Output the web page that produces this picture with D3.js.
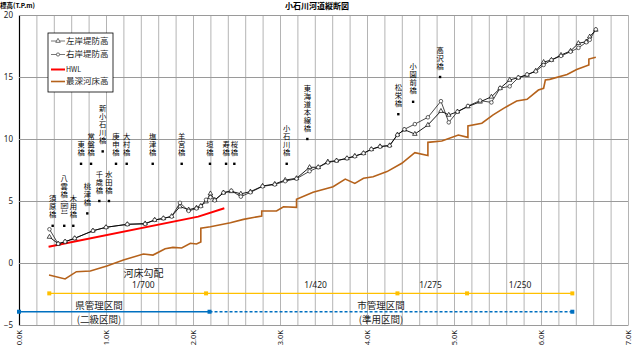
<!DOCTYPE html>
<html><head><meta charset="utf-8">
<script src="https://cdn.jsdelivr.net/npm/d3@7"></script>
<style>
html,body{margin:0;padding:0;background:#fff;}
svg{display:block;font-family:"Noto Sans CJK JP","Noto Sans",sans-serif;}
</style></head><body>
<svg id="chart" width="632" height="345"></svg>
<script>
// Survey sections (distance from river mouth, km)
const sections = [0.35,0.45,0.53,0.64,0.85,1.00,1.245,1.45,1.56,1.66,1.755,1.85,1.95,2.04,2.09,2.15,2.20,2.25,2.35,2.44,2.55,2.66,2.80,2.94,3.06,3.19,3.34,3.44,3.55,3.65,3.77,3.86,3.96,4.05,4.15,4.26,4.35,4.43,4.55,4.70,4.85,4.94,5.04,5.16,5.30,5.43,5.53,5.64,5.74,5.84,5.94,6.03,6.12,6.23,6.34,6.43,6.52,6.56,6.63];
// 左岸堤防高 (T.P.m)
const leftBank = [2.10,1.55,1.72,1.99,2.60,2.88,3.12,3.18,3.47,3.60,3.77,4.55,4.30,4.45,4.60,4.95,5.60,5.08,5.67,5.78,5.58,5.75,6.21,6.37,6.69,6.83,7.72,7.72,8.17,8.25,8.44,8.63,8.85,9.17,9.40,9.48,10.35,10.75,10.40,11.13,12.25,11.94,12.20,12.62,13.00,13.40,14.09,14.76,14.95,15.16,15.50,16.20,16.37,16.77,17.10,17.72,17.85,18.25,18.80];
// 右岸堤防高 (T.P.m)
const rightBank = [2.72,1.55,1.72,1.99,2.60,2.88,3.12,3.15,3.47,3.60,3.74,4.85,4.20,4.40,4.58,5.10,5.30,5.05,5.67,5.83,5.35,5.70,6.18,6.33,6.60,6.80,7.40,7.72,8.10,8.25,8.44,8.60,8.85,9.17,9.38,9.46,10.32,10.78,11.20,11.75,13.05,11.34,12.20,12.66,13.10,12.95,14.10,14.25,14.95,15.20,15.45,15.97,16.37,16.70,17.04,17.35,17.80,18.00,18.84];

// HWL
const hwlDist = [0.34, 2.06, 2.36];
const hwlLevel = [1.31, 3.74, 4.41];

// 最深河床高
const bedDist = [0.345,0.53,0.66,0.82,1.01,1.20,1.43,1.54,1.68,1.77,1.87,1.97,2.04,2.09,2.09,2.20,2.43,2.58,2.79,2.79,2.96,3.04,3.19,3.19,3.38,3.61,3.75,3.86,3.96,4.07,4.23,4.40,4.55,4.70,4.70,4.86,5.05,5.16,5.16,5.32,5.45,5.57,5.72,5.84,5.97,6.03,6.05,6.10,6.30,6.41,6.55,6.55,6.63];
const bedLevel = [-0.97,-1.29,-0.70,-0.65,-0.24,0.24,0.72,0.64,1.15,1.26,1.21,1.59,1.53,1.70,2.80,2.93,3.25,3.52,3.79,4.19,4.19,4.54,4.49,5.13,5.70,6.15,6.77,6.42,6.83,6.96,7.37,8.04,8.90,8.66,9.73,9.84,10.32,10.13,11.05,11.27,11.94,12.47,13.06,13.20,13.95,14.09,14.76,14.81,15.20,15.60,15.97,16.45,16.60];

// Bridges: name, location (km), label anchor level (T.P.m)
const bridgeNames = ["須原橋","八雲橋(国1)","木用橋","東橋","桃津橋","常盤橋","千歳橋","新小石川橋","水田橋","庚申橋","大村橋","塩津橋","羊宮橋","垣橋","寿橋","桜橋","小石川橋","東海道本線橋","松栄橋","小園前橋","高沢橋"];
const bridgeDist = [0.387,0.52,0.624,0.713,0.785,0.828,0.923,0.962,1.034,1.115,1.238,1.537,1.87,2.195,2.38,2.475,3.077,3.314,4.36,4.53,4.84];
const bridgeLevel = [3,3,3,8,4,8,5,9,5,8,8,8,8,8,8,8,8,10,12,13,15];

// River-bed gradient sections
const gradeBreaks = [0.348, 2.15, 4.35, 5.15, 6.36];
const gradeLabels = ["1/700","1/420","1/275","1/250"];
const gradeLabelDist = [1.43, 3.41, 4.73, 5.76];
const gradeLevel = -2.45;

// Administrative sections
const adminBreaks = [0, 2.19, 6.36];
const adminLabels = [["県管理区間","(二級区間)"],["市管理区間","(準用区間)"]];
const adminLabelDist = [0.92, 4.16];
const adminLevel = -3.93;

const yTicks = [20,15,10,5,0,-5];

const svg = d3.select('#chart');
const x = d3.scaleLinear().domain([0,7]).range([19,628]);
const y = d3.scaleLinear().domain([-5,20]).range([325,15]);

// vertical grid every 0.2 km, labelled every 1 km
const xAxis = d3.axisBottom(x)
  .tickValues(d3.range(0,36).map(i => +(i*0.2).toFixed(1)))
  .tickSize(-(325-15)).tickSizeOuter(0)
  .tickFormat(d => Number.isInteger(d) ? d.toFixed(1) + "K" : "");
const gx = svg.append('g').attr('transform','translate(0,325)').call(xAxis);
gx.selectAll('.tick line').attr('stroke','#b4b4b4').attr('stroke-width',1);
gx.select('.domain').attr('stroke','#999');
gx.selectAll('.tick text')
  .attr('transform','rotate(-90)')
  .attr('text-anchor','end')
  .attr('x',-5).attr('y',0).attr('dy','0.33em')
  .attr('font-size',7.5).attr('fill','#222')
  .attr('font-family','"Noto Sans",sans-serif');

const yAxis = d3.axisLeft(y).tickValues(yTicks).tickSize(-(628-19)).tickSizeOuter(0).tickPadding(6);
const gy = svg.append('g').attr('transform','translate(19,0)').call(yAxis);
gy.selectAll('.tick line').attr('stroke','#9a9a9a').attr('stroke-width',1);
gy.select('.domain').attr('stroke','#000').attr('stroke-width',1.2);
gy.selectAll('.tick text').attr('font-size',8).attr('fill','#222')
  .attr('font-family','"Noto Sans",sans-serif');

// titles
svg.append('text').attr('x',317).attr('y',8.5).attr('text-anchor','middle')
  .attr('font-size',8).attr('font-weight','bold').text('小石川河道縦断図');
svg.append('text').attr('x',0).attr('y',7.5)
  .attr('font-size',6.5).attr('font-weight','bold').text('標高(T.P.m)');

const line = d3.line().x(d => x(d[0])).y(d => y(d[1]));

// 最深河床高
svg.append('path').datum(bedDist.map((d,i)=>[d,bedLevel[i]]))
  .attr('d',line).attr('fill','none').attr('stroke','#b5621b').attr('stroke-width',1.6);

// HWL
svg.append('path').datum(hwlDist.map((d,i)=>[d,hwlLevel[i]]))
  .attr('d',line).attr('fill','none').attr('stroke','#ff0000').attr('stroke-width',2);

// embankment lines
const leftPts = sections.map((d,i)=>[d,leftBank[i]]);
const rightPts = sections.map((d,i)=>[d,rightBank[i]]);
svg.append('path').datum(rightPts).attr('d',line).attr('fill','none').attr('stroke','#333').attr('stroke-width',0.9);
svg.append('path').datum(leftPts).attr('d',line).attr('fill','none').attr('stroke','#000').attr('stroke-width',0.9);

const tri = d3.symbol().type(d3.symbolTriangle).size(9);
svg.append('g').selectAll('path').data(leftPts).join('path')
  .attr('d',tri).attr('transform',d=>`translate(${x(d[0])},${y(d[1])})`)
  .attr('fill','#fff').attr('stroke','#000').attr('stroke-width',0.7);
svg.append('g').selectAll('circle').data(rightPts).join('circle')
  .attr('cx',d=>x(d[0])).attr('cy',d=>y(d[1])).attr('r',1.8)
  .attr('fill','#fff').attr('stroke','#222').attr('stroke-width',0.7);

// bridge labels: one character per row, stacked above a small marker
const gb = svg.append('g').attr('fill','#000');
const step = 8;
bridgeNames.forEach((name,i) => {
  const bx = x(bridgeDist[i]), by = y(bridgeLevel[i]);
  gb.append('rect').attr('x',bx-1.2).attr('y',by-1.2).attr('width',2.4).attr('height',2.4).attr('fill','#000');
  const m = name.match(/^([^(]*)(\(.*\))?$/);
  let base = by - 8.5; // baseline of the lowest character
  if (m[2]) {
    // road note under the name, turned sideways
    const t = gb.append('text').attr('font-size',6.5).attr('dy','0.35em').text(m[2]);
    const L = t.node().getComputedTextLength();
    const bottom = by - 11;
    t.attr('transform',`translate(${bx},${bottom - L}) rotate(90)`);
    base = bottom - L - 3;
  }
  const chars = Array.from(m[1]).reverse();
  chars.forEach((c,k) => {
    gb.append('text').attr('x',bx).attr('y',base - k*step)
      .attr('text-anchor','middle').attr('font-size',7.3).text(c);
  });
});

// gradient sections
svg.append('path').datum(gradeBreaks.map(d=>[d,gradeLevel]))
  .attr('d',line).attr('fill','none').attr('stroke','#ffc000').attr('stroke-width',1.3);
svg.append('g').selectAll('rect').data(gradeBreaks).join('rect')
  .attr('x',d=>x(d)-2).attr('y',y(gradeLevel)-2).attr('width',4).attr('height',4).attr('fill','#ffc000');
svg.append('g').selectAll('text').data(gradeLabels).join('text')
  .attr('x',(d,i)=>x(gradeLabelDist[i])).attr('y',y(gradeLevel)-5)
  .attr('text-anchor','middle').attr('font-size',8.5).attr('fill','#222')
  .attr('font-family','"Noto Sans",sans-serif').text(d=>d);
svg.append('text').attr('x',x(gradeLabelDist[0])).attr('y',y(gradeLevel)-16.5)
  .attr('text-anchor','middle').attr('font-size',10).attr('fill','#222').text('河床勾配');

// administrative sections
svg.append('path').datum([[adminBreaks[0],adminLevel],[adminBreaks[1],adminLevel]])
  .attr('d',line).attr('fill','none').attr('stroke','#0070c0').attr('stroke-width',1.3);
svg.append('path').datum([[adminBreaks[1],adminLevel],[adminBreaks[2],adminLevel]])
  .attr('d',line).attr('fill','none').attr('stroke','#0070c0').attr('stroke-width',1.3)
  .attr('stroke-dasharray','3,2');
svg.append('g').selectAll('rect').data(adminBreaks).join('rect')
  .attr('x',d=>x(d)-2).attr('y',y(adminLevel)-2).attr('width',4).attr('height',4).attr('fill','#0070c0');
adminLabels.forEach((pair,i) => {
  svg.append('text').attr('x',x(adminLabelDist[i])).attr('y',y(adminLevel)-3)
    .attr('text-anchor','middle').attr('font-size',9.5).attr('fill','#222').text(pair[0]);
  svg.append('text').attr('x',x(adminLabelDist[i])).attr('y',y(adminLevel)+11)
    .attr('text-anchor','middle').attr('font-size',9.5).attr('fill','#222').text(pair[1]);
});

// legend
const lg = svg.append('g');
lg.append('rect').attr('x',48).attr('y',33).attr('width',65).attr('height',59)
  .attr('fill','#fff').attr('stroke','#000').attr('stroke-width',0.8);
const legendItems = [
  {label:'左岸堤防高', ly:41, color:'#555', w:0.8, mark:'tri'},
  {label:'右岸堤防高', ly:54.5, color:'#555', w:0.8, mark:'circle'},
  {label:'HWL', ly:69.5, color:'#ff0000', w:2, mark:null},
  {label:'最深河床高', ly:81.5, color:'#b5621b', w:1.6, mark:null}
];
legendItems.forEach(it => {
  lg.append('line').attr('x1',51).attr('x2',65).attr('y1',it.ly).attr('y2',it.ly)
    .attr('stroke',it.color).attr('stroke-width',it.w);
  if (it.mark === 'tri') {
    lg.append('path').attr('d',tri).attr('transform',`translate(58,${it.ly})`)
      .attr('fill','#fff').attr('stroke','#333').attr('stroke-width',0.7);
  } else if (it.mark === 'circle') {
    lg.append('circle').attr('cx',58).attr('cy',it.ly).attr('r',1.6)
      .attr('fill','#fff').attr('stroke','#333').attr('stroke-width',0.7);
  }
  lg.append('text').attr('x',66).attr('y',it.ly).attr('dy','0.35em')
    .attr('font-size', it.label === 'HWL' ? 7 : 8.5).attr('fill','#222').text(it.label);
});
</script>
</body></html>
